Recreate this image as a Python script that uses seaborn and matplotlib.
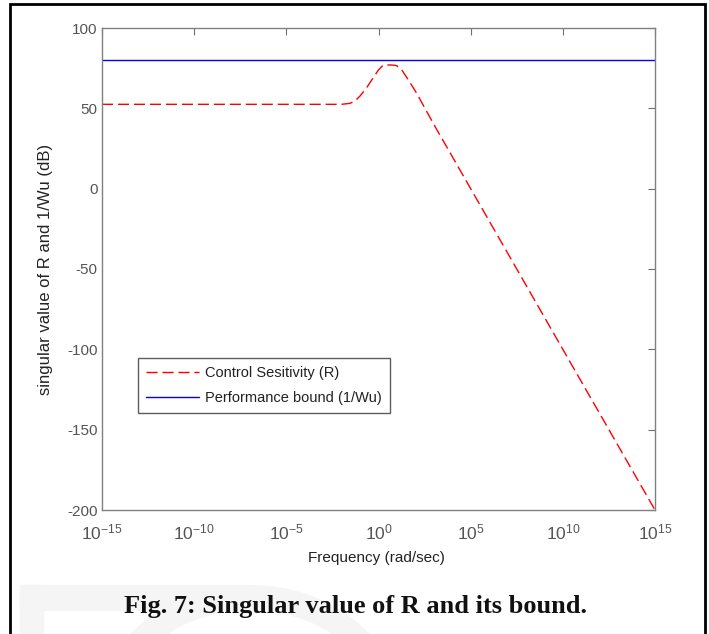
import numpy as np
import pandas as pd
import seaborn as sns
import matplotlib.pyplot as plt
from matplotlib.patches import Rectangle, Ellipse
from matplotlib.transforms import IdentityTransform
from matplotlib.ticker import NullLocator, FixedLocator

# ---- data ----
log_freq_R = [-15.0, -2.0, -1.55, -1.27, -1.0, -0.64, -0.37, 0.0, 0.25, 0.6,
              0.9, 1.0, 1.26, 1.53, 2.07, 3.0, 5.0, 10.0, 15.0]
sv_R_db = [52.5, 52.5, 53.1, 54.6, 57.7, 62.9, 67.6, 73.9, 76.8, 77.0,
           76.8, 76.4, 73.9, 69.3, 59.4, 40.0, 0.0, -100.0, -200.0]
log_freq_bound = [-15.0, 15.0]
bound_db = [80.0, 80.0]

label_R = "Control Sesitivity (R)"
label_bound = "Performance bound (1/Wu)"
x_tick_exps = [-15, -10, -5, 0, 5, 10, 15]
y_ticks = [-200, -150, -100, -50, 0, 50, 100]

df_R = pd.DataFrame({"freq": 10.0 ** np.array(log_freq_R), "db": sv_R_db})
df_B = pd.DataFrame({"freq": 10.0 ** np.array(log_freq_bound), "db": bound_db})

sns.set_theme(style="white")
plt.rcParams["font.family"] = ["Liberation Sans", "DejaVu Sans"]
plt.rcParams["mathtext.fontset"] = "custom"
plt.rcParams["mathtext.rm"] = "Liberation Sans"
plt.rcParams["axes.unicode_minus"] = False

W, H = 709, 634
fig = plt.figure(figsize=(W / 100, H / 100), dpi=100)
fig.patch.set_facecolor("white")
ax = fig.add_axes([102 / W, 1 - 510 / H, 553 / W, 482 / H])
ax.set_facecolor("white")

sns.lineplot(data=df_R, x="freq", y="db", ax=ax, color="#ff0000", lw=1.0,
             label=label_R, estimator=None, sort=False)
ax.get_lines()[-1].set_dashes([8, 3.5])
sns.lineplot(data=df_B, x="freq", y="db", ax=ax, color="#0000ff", lw=1.0,
             label=label_bound, estimator=None, sort=False)

ax.set_xscale("log")
ax.set_xlim(1e-15, 1e15)
ax.set_ylim(-200, 100)
ax.xaxis.set_major_locator(FixedLocator([10.0 ** e for e in x_tick_exps]))
ax.xaxis.set_minor_locator(NullLocator())
ax.set_yticks(y_ticks)

for s in ax.spines.values():
    s.set_color("#808080")
    s.set_linewidth(1.0)
ax.tick_params(direction="in", top=True, right=True, length=5, width=0.8,
               color="#707070", labelcolor="#555555", labelsize=11)
ax.tick_params(axis="x", pad=9, labelsize=12.5)
ax.tick_params(axis="y", pad=3)

ax.set_xlabel("Frequency (rad/sec)", fontsize=11, color="#222222")
ax.set_ylabel("singular value of R and 1/Wu (dB)", fontsize=12, color="#222222")
ax.xaxis.set_label_coords(0.497, -(551 - 510) / 482)
ax.yaxis.set_label_coords((53 - 102) / 553, 0.5)

leg = ax.legend(loc="upper left", bbox_to_anchor=((138 - 102) / 553, (510 - 358) / 482),
                borderaxespad=0, frameon=True, fancybox=False, fontsize=10.5,
                handlelength=3.6, handletextpad=0.45, labelspacing=0.75,
                borderpad=0.55)
leg.get_frame().set_edgecolor("#333333")
leg.get_frame().set_linewidth(1.0)
for t in leg.get_texts():
    t.set_color("#222222")

# faint watermark letter behind the caption
wm = "#f5f5f5"
idt = IdentityTransform()
fig.add_artist(Rectangle((20, 0), 23, 49, transform=idt, color=wm, zorder=1))
fig.add_artist(Rectangle((20, 24), 230, 25, transform=idt, color=wm, zorder=1))
fig.add_artist(Ellipse((250, -70), 2 * 135, 2 * 106.5, transform=idt, fill=False,
                       ec=wm, lw=18, zorder=1))

# clip the bottom of the x label like the reference
fig.add_artist(Rectangle((290, H - 578), 180, 12, transform=idt, color="white", zorder=2))

fig.text(355 / W, 1 - 606 / H, "Fig. 7: Singular value of R and its bound.",
         ha="center", va="center", fontsize=19, fontweight="bold",
         family=["Liberation Serif", "DejaVu Serif"], color="#111111", zorder=3)

# outer frame
fig.add_artist(Rectangle((10, -10), 695, H - 4 + 10, transform=idt, fill=False,
                         ec="black", lw=2, zorder=5))

fig.savefig("out.png", dpi=100)
